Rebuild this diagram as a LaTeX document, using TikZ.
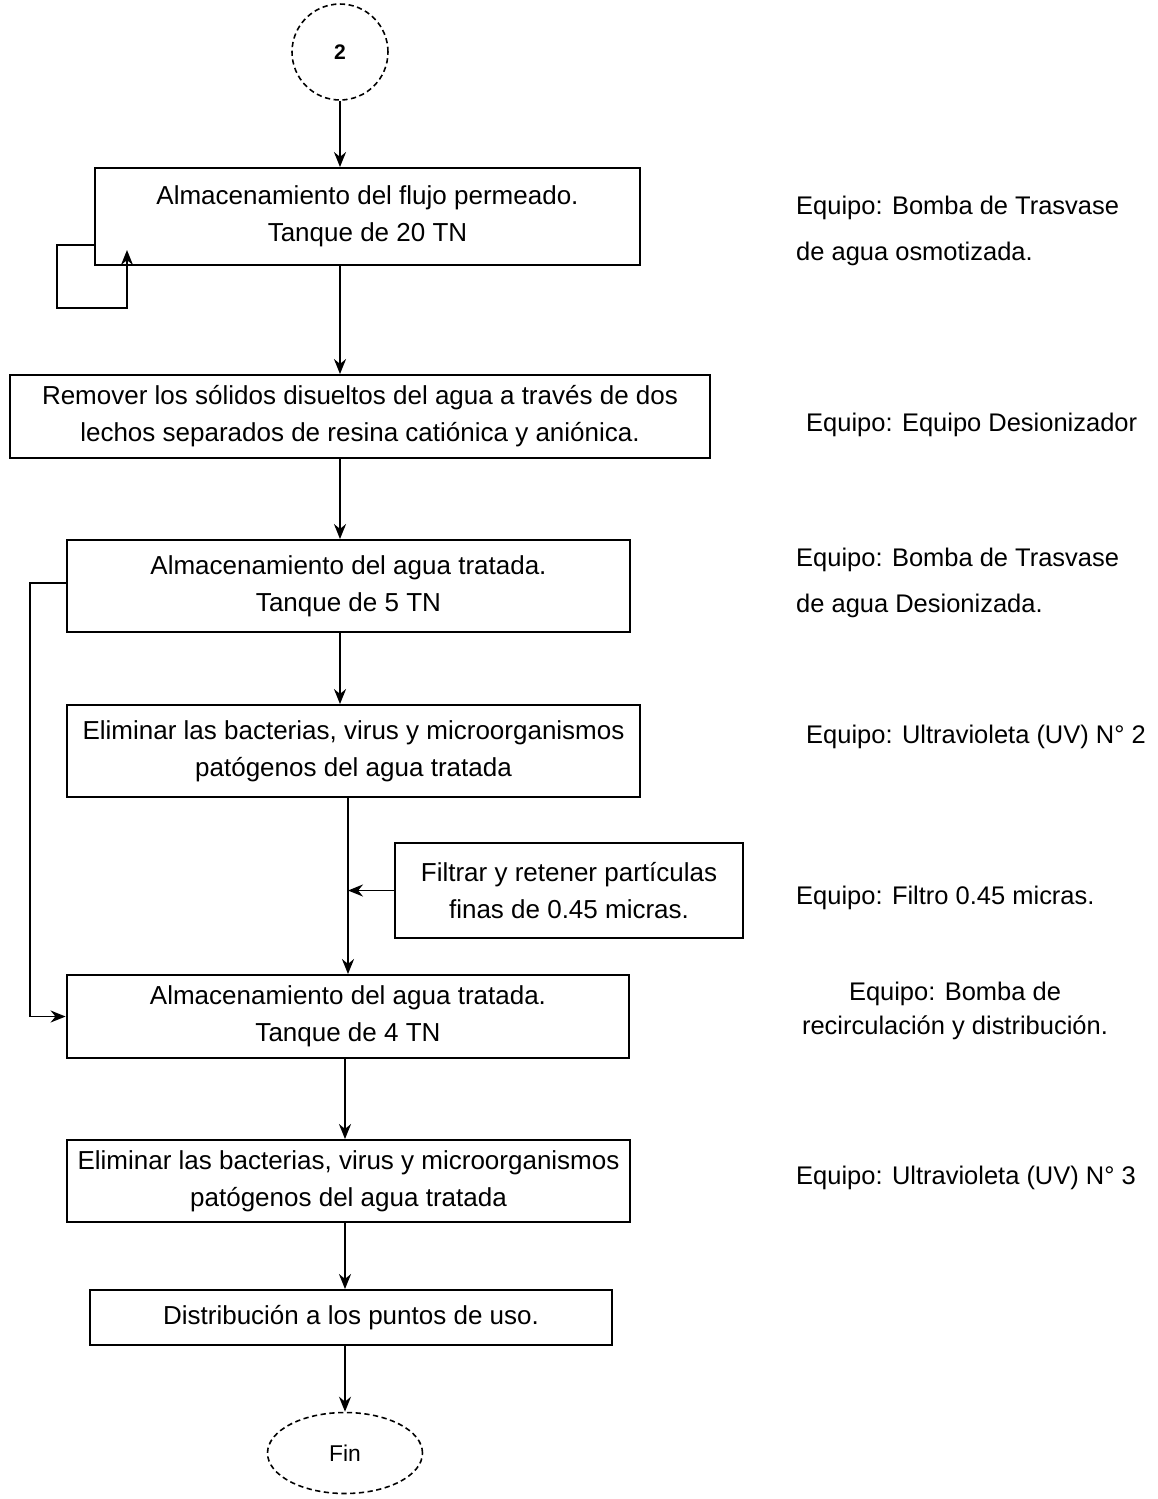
\documentclass[tikz,border=0pt]{standalone}
\usepackage{fontspec}
\setmainfont{Liberation Sans}
\usetikzlibrary{arrows.meta,shapes.geometric}

\begin{document}
\begin{tikzpicture}[x=0.02cm, y=-0.02cm,
    box/.style={draw, line width=1.1pt, align=center, font=\fontsize{14.8}{21}\selectfont, inner sep=2pt},
    equipo/.style={align=left, anchor=west, font=\fontsize{14.5}{26}\selectfont},
    flecha/.style={line width=1.1pt, -{Stealth[length=3mm, width=2.4mm]}}]
    \useasboundingbox (0,0) rectangle (1158,1499);

    % Start connector
    \node[draw, densely dashed, line width=0.9pt, circle, minimum size=1.92cm, font=\bfseries\fontsize{12}{14}\selectfont] (inicio) at (340,52) {2};

    % Process boxes
    \node[box, minimum width=10.9cm, minimum height=1.94cm] (alm1) at (367.5,216.5) {Almacenamiento del flujo permeado.\\Tanque de 20 TN};
    \node[box, minimum width=14cm, minimum height=1.66cm] (desion) at (360,416.5) {Remover los sólidos disueltos del agua a través de dos\\lechos separados de resina catiónica y aniónica.};
    \node[box, minimum width=11.26cm, minimum height=1.84cm] (alm2) at (348.5,586) {Almacenamiento del agua tratada.\\Tanque de 5 TN};
    \node[box, minimum width=11.46cm, minimum height=1.84cm] (uv1) at (353.5,751) {Eliminar las bacterias, virus y microorganismos\\patógenos del agua tratada};
    \node[box, minimum width=6.96cm, minimum height=1.9cm] (filtro) at (569,890.5) {Filtrar y retener partículas\\finas de 0.45 micras.};
    \node[box, minimum width=11.26cm, minimum height=1.66cm] (alm3) at (348,1016.5) {Almacenamiento del agua tratada.\\Tanque de 4 TN};
    \node[box, minimum width=11.26cm, minimum height=1.64cm] (uv2) at (348.5,1181) {Eliminar las bacterias, virus y microorganismos\\patógenos del agua tratada};
    \node[box, minimum width=10.44cm, minimum height=1.1cm] (distrib) at (351,1317.5) {Distribución a los puntos de uso.};

    % End connector
    \node[draw, densely dashed, line width=0.9pt, ellipse, minimum width=3.1cm, minimum height=1.62cm, font=\fontsize{13}{15}\selectfont] (fin) at (345,1453) {Fin};

    % Equipment labels
    \node[equipo] (eq1) at (790,231) {Equipo: Bomba de Trasvase\\de agua osmotizada.};
    \node[equipo] (eq2) at (800,425) {Equipo: Equipo Desionizador};
    \node[equipo] (eq3) at (790,583) {Equipo: Bomba de Trasvase\\de agua Desionizada.};
    \node[equipo] (eq4) at (800,737) {Equipo: Ultravioleta (UV) N° 2};
    \node[equipo] (eq5) at (790,898) {Equipo: Filtro 0.45 micras.};
    \node[align=center, font=\fontsize{14.5}{19}\selectfont] (eq6) at (955,1011) {Equipo: Bomba de\\recirculación y distribución.};
    \node[equipo] (eq7) at (790,1178) {Equipo: Ultravioleta (UV) N° 3};

    % Main flow
    \draw[flecha] (inicio.south) -- (inicio.south |- alm1.north);
    \draw[flecha] (alm1.south -| inicio) -- (desion.north -| inicio);
    \draw[flecha] (desion.south -| inicio) -- (alm2.north -| inicio);
    \draw[flecha] (alm2.south -| inicio) -- (uv1.north -| inicio);
    \draw[flecha] (uv1.south -| alm3) -- (alm3.north);
    \draw[flecha] (filtro.west) -- (filtro.west -| alm3.north);
    \draw[flecha] (alm3.south -| fin) -- (uv2.north -| fin);
    \draw[flecha] (uv2.south -| fin) -- (distrib.north -| fin);
    \draw[flecha] (distrib.south -| fin) -- (fin.north);

    % Return loop on the permeate tank
    \coordinate (b1) at (57,245);
    \coordinate (b2) at (127,308);
    \coordinate (b3) at (127,250);
    \draw[flecha] (alm1.west |- b1) -- (b1) |- (b2) -- (b3);

    % Recirculation to the 4 TN tank
    \coordinate (r1) at (30,583);
    \draw[flecha] (alm2.west |- r1) -- (r1) |- (alm3.west);
\end{tikzpicture}
\end{document}
